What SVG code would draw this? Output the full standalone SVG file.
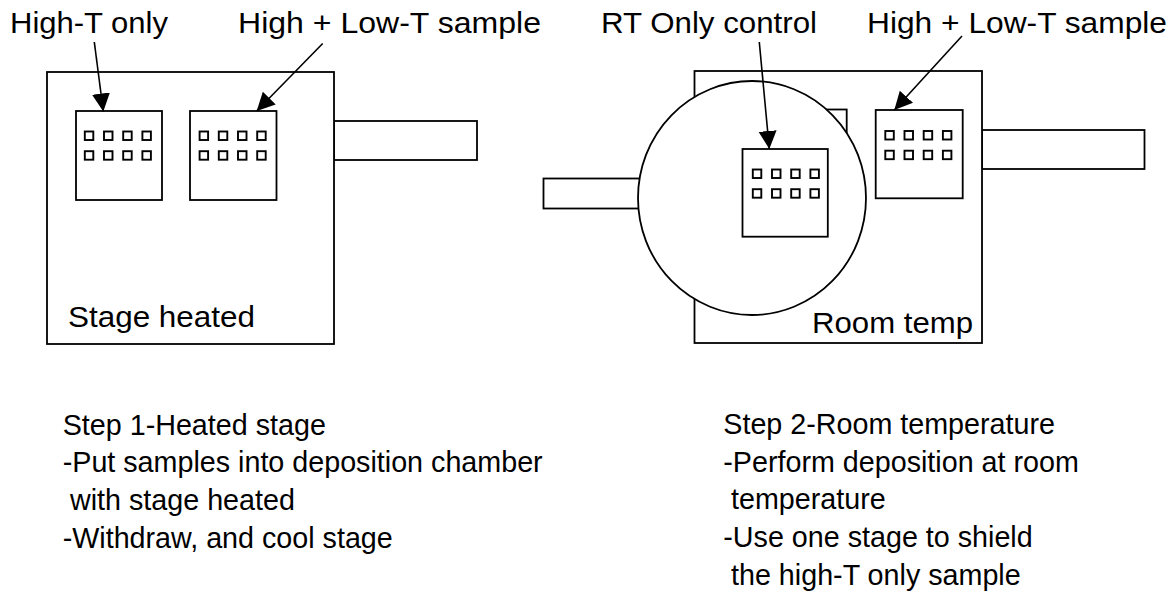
<svg xmlns="http://www.w3.org/2000/svg" xmlns:xlink="http://www.w3.org/1999/xlink" width="1175" height="597" viewBox="0 0 1175 597">
<style>
.ln{fill:#fff;stroke:#000;stroke-width:1.8}
.sq{fill:none;stroke:#000;stroke-width:1.9}
.lbl{font-family:"Liberation Sans",Arial,sans-serif;font-size:30px;fill:#000}
.txt{font-family:"Liberation Sans",Arial,sans-serif;font-size:28.7px;fill:#000}
.arr{fill:none;stroke:#000;stroke-width:1.6;marker-end:url(#ah)}
</style>
<defs>
<marker id="ah" markerUnits="userSpaceOnUse" markerWidth="19" markerHeight="19" refX="18" refY="9" orient="auto">
<path d="M0,0 L18,9 L0,18 z" fill="#000"/>
</marker>
<g id="chips">
<rect class="sq" x="0" y="0" width="8.5" height="8.5"/>
<rect class="sq" x="19.2" y="0" width="8.5" height="8.5"/>
<rect class="sq" x="38.4" y="0" width="8.5" height="8.5"/>
<rect class="sq" x="57.6" y="0" width="8.5" height="8.5"/>
<rect class="sq" x="0" y="19.7" width="8.5" height="8.5"/>
<rect class="sq" x="19.2" y="19.7" width="8.5" height="8.5"/>
<rect class="sq" x="38.4" y="19.7" width="8.5" height="8.5"/>
<rect class="sq" x="57.6" y="19.7" width="8.5" height="8.5"/>
</g>
</defs>
<rect width="1175" height="597" fill="#fff"/>

<!-- Step 1: heated stage -->
<g id="stage-heated">
<rect class="ln" x="334" y="121" width="143" height="39"/>
<rect class="ln" x="47" y="72" width="287" height="272"/>
<text class="txt" x="68" y="327" style="font-size:30px" textLength="187" lengthAdjust="spacingAndGlyphs">Stage heated</text>
</g>
<g id="holder-hight-only">
<rect class="ln" x="76" y="111" width="86" height="89"/>
<use xlink:href="#chips" x="84.8" y="131.5"/>
</g>
<g id="holder-highlow-1">
<rect class="ln" x="190" y="111" width="86.5" height="89"/>
<use xlink:href="#chips" x="199.6" y="131.5"/>
</g>

<!-- Step 2: room temperature -->
<g id="stage-room">
<rect class="ln" x="982" y="130" width="162.5" height="39"/>
<rect class="ln" x="694.5" y="71" width="287.5" height="272"/>
<text class="txt" x="812" y="333" style="font-size:30px" textLength="161" lengthAdjust="spacingAndGlyphs">Room temp</text>
</g>
<g id="holder-hidden">
<rect class="ln" x="760" y="109.5" width="86.7" height="88"/>
</g>
<g id="shield">
<rect class="ln" x="543.5" y="178.5" width="100" height="30"/>
<ellipse class="ln" cx="752" cy="198" rx="114" ry="117"/>
</g>
<g id="holder-rt-control">
<rect class="ln" x="742.5" y="149" width="85.3" height="87.7"/>
<use xlink:href="#chips" x="752.8" y="169.5"/>
</g>
<g id="holder-highlow-2">
<rect class="ln" x="875.7" y="110" width="87" height="88.3"/>
<use xlink:href="#chips" x="885.3" y="131"/>
</g>

<!-- labels -->
<g id="labels">
<text class="lbl" x="10" y="33" textLength="158" lengthAdjust="spacingAndGlyphs">High-T only</text>
<text class="lbl" x="238" y="33" textLength="303" lengthAdjust="spacingAndGlyphs">High + Low-T sample</text>
<text class="lbl" x="601" y="32.5" textLength="216" lengthAdjust="spacingAndGlyphs">RT Only control</text>
<text class="lbl" x="867" y="32.5" textLength="300" lengthAdjust="spacingAndGlyphs">High + Low-T sample</text>
</g>

<g id="connectors">
<line class="arr" x1="94.3" y1="42" x2="103.3" y2="111.5"/>
<line class="arr" x1="322.7" y1="43.5" x2="256.7" y2="111"/>
<line class="arr" x1="759.3" y1="42" x2="769.3" y2="149"/>
<line class="arr" x1="962" y1="36" x2="894.3" y2="110"/>
</g>

<!-- step descriptions -->
<g id="step1-text">
<text class="txt" x="62.7" y="435">Step 1-Heated stage</text>
<text class="txt" x="62.7" y="472">-Put samples into deposition chamber</text>
<text class="txt" x="70" y="510">with stage heated</text>
<text class="txt" x="62.7" y="548">-Withdraw, and cool stage</text>
</g>
<g id="step2-text">
<text class="txt" x="723.3" y="433.5">Step 2-Room temperature</text>
<text class="txt" x="723.3" y="471.7">-Perform deposition at room</text>
<text class="txt" x="731" y="508.5">temperature</text>
<text class="txt" x="723.3" y="546.7">-Use one stage to shield</text>
<text class="txt" x="731" y="585">the high-T only sample</text>
</g>
</svg>
